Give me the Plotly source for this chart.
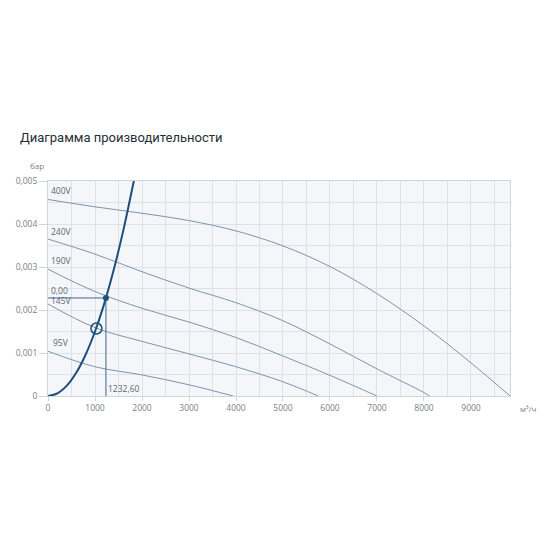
import plotly.graph_objects as go

# ---- data (m³/h, bar) ----
title_text = "Диаграмма производительности"

curve_names = ["400V", "240V", "190V", "145V", "95V"]

x_400 = [0, 1000, 2000, 3000, 4000, 5000, 6000, 7000, 8000, 9000, 9830]
y_400 = [0.00457, 0.00440, 0.00425, 0.00408, 0.00384, 0.00349, 0.00301, 0.00238, 0.00163, 0.00077, 0.0]

x_240 = [0, 1000, 2000, 3000, 4000, 5000, 6000, 7000, 8000, 8120]
y_240 = [0.00365, 0.00330, 0.00289, 0.00251, 0.00217, 0.00175, 0.00121, 0.00063, 0.00008, 0.0]

x_190 = [0, 1000, 2000, 3000, 4000, 5000, 6000, 7000]
y_190 = [0.00295, 0.00243, 0.00204, 0.00172, 0.00136, 0.00093, 0.00048, 0.0]

x_145 = [0, 1000, 2000, 3000, 4000, 5000, 5750]
y_145 = [0.00214, 0.00159, 0.00127, 0.00098, 0.00068, 0.00033, 0.0]

x_95 = [0, 1000, 2000, 3000, 3940]
y_95 = [0.00104, 0.00068, 0.00049, 0.00026, 0.0]

# system (network) curve
x_sys = [0, 200, 400, 600, 800, 1000, 1200, 1400, 1600, 1826]
y_sys = [0.0, 0.00006, 0.00024, 0.00054, 0.00096, 0.00150, 0.00216, 0.00294, 0.00384, 0.00500]

# operating point / intersection
op_x = 1232.6
op_y = 0.00228
op_label_x = "1232,60"
op_label_y = "0,00"
ix_x = 1030
ix_y = 0.00157

x_ticks = [0, 1000, 2000, 3000, 4000, 5000, 6000, 7000, 8000, 9000]
y_ticks = [0, 0.001, 0.002, 0.003, 0.004, 0.005]
x_unit = "м³/ч"
y_unit = "бар"

# ---- styles ----
perf_color = "#7f95aa"
sys_color = "#1d4f7c"
cross_color = "#3d6891"
label_color = "#5f6770"
tick_color = "#7a7f85"
grid_color = "#dde2e7"
font_family = "Open Sans, Noto Sans, sans-serif"

fig = go.Figure()

curves = [(x_400, y_400), (x_240, y_240), (x_190, y_190), (x_145, y_145), (x_95, y_95)]
for name, (xs, ys) in zip(curve_names, curves):
    fig.add_trace(go.Scatter(x=xs, y=ys, mode="lines", name=name,
                             line=dict(color=perf_color, width=1, shape="spline", smoothing=1),
                             hoverinfo="skip"))

# crosshair lines
fig.add_trace(go.Scatter(x=[0, op_x], y=[op_y, op_y], mode="lines",
                         line=dict(color=cross_color, width=1), hoverinfo="skip"))
fig.add_trace(go.Scatter(x=[op_x, op_x], y=[0, op_y], mode="lines",
                         line=dict(color=cross_color, width=1), hoverinfo="skip"))

# system curve
fig.add_trace(go.Scatter(x=x_sys, y=y_sys, mode="lines",
                         line=dict(color=sys_color, width=2, shape="spline", smoothing=1),
                         hoverinfo="skip"))

# intersection circle
fig.add_trace(go.Scatter(x=[ix_x], y=[ix_y], mode="markers",
                         marker=dict(symbol="circle-open", size=11, color=sys_color,
                                     line=dict(width=1.5, color=sys_color)),
                         hoverinfo="skip"))
# operating point
fig.add_trace(go.Scatter(x=[op_x], y=[op_y], mode="markers",
                         marker=dict(symbol="circle", size=6, color=sys_color),
                         hoverinfo="skip"))

annotations = []
label_shifts = {"400V": (1, 1), "240V": (1, 0), "190V": (1, 1), "145V": (1, -4), "95V": (3, 1)}
for name, (xs, ys) in zip(curve_names, curves):
    xs_, ys_ = label_shifts[name]
    annotations.append(dict(x=xs[0], y=ys[0], xref="x", yref="y", text=name, showarrow=False,
                            xanchor="left", yanchor="bottom", xshift=xs_, yshift=ys_,
                            font=dict(size=8.5, color=label_color, family=font_family)))
annotations.append(dict(x=0, y=op_y, xref="x", yref="y", text=op_label_y, showarrow=False,
                        xanchor="left", yanchor="bottom", xshift=1, yshift=0,
                        font=dict(size=8.5, color=label_color, family=font_family)))
annotations.append(dict(x=op_x, y=0, xref="x", yref="y", text=op_label_x, showarrow=False,
                        xanchor="left", yanchor="bottom", xshift=0, yshift=0,
                        font=dict(size=8.5, color=label_color, family=font_family)))
annotations.append(dict(x=0, y=y_ticks[-1], xref="paper", yref="y", text=y_unit, showarrow=False,
                        xanchor="right", yanchor="bottom", xshift=-2, yshift=8,
                        font=dict(size=8, color=tick_color, family=font_family)))
annotations.append(dict(x=1, y=0, xref="paper", yref="y", text=x_unit, showarrow=False,
                        xanchor="left", yanchor="top", xshift=8, yshift=-5,
                        font=dict(size=8, color=tick_color, family=font_family)))

fig.update_layout(
    width=550, height=550,
    margin=dict(l=48, r=40, t=181, b=154, autoexpand=False),
    paper_bgcolor="white",
    plot_bgcolor="#f4f6f9",
    showlegend=False,
    separators=", ",
    title=dict(text=title_text, x=20 / 550, xanchor="left", y=1 - 137 / 550, yanchor="middle",
               font=dict(size=13, color="#262e37",
                         family="Roboto, Open Sans, sans-serif")),
    annotations=annotations,
)

fig.update_xaxes(range=[0, 9830], tickvals=x_ticks, showgrid=True, gridcolor=grid_color, gridwidth=1,
                 minor=dict(dtick=500, tick0=0, showgrid=True, gridcolor=grid_color, gridwidth=1),
                 zeroline=False, showline=True, linecolor="#d0d5da", mirror=True,
                 ticks="outside", ticklen=4, tickcolor="#d0d5da", automargin=False,
                 tickfont=dict(size=8.5, color=tick_color, family=font_family))
fig.update_yaxes(range=[0, 0.005], tickvals=y_ticks, showgrid=True, gridcolor=grid_color, gridwidth=1,
                 minor=dict(dtick=0.0005, tick0=0, showgrid=True, gridcolor=grid_color, gridwidth=1),
                 zeroline=False, showline=True, linecolor="#d0d5da", mirror=True,
                 ticks="outside", ticklen=8, tickcolor="#d0d5da", automargin=False,
                 tickfont=dict(size=8.5, color=tick_color, family=font_family))

fig.write_html("out.html", config={"displayModeBar": False},
               post_script="document.body.style.margin='0';document.body.style.overflow='hidden';")
